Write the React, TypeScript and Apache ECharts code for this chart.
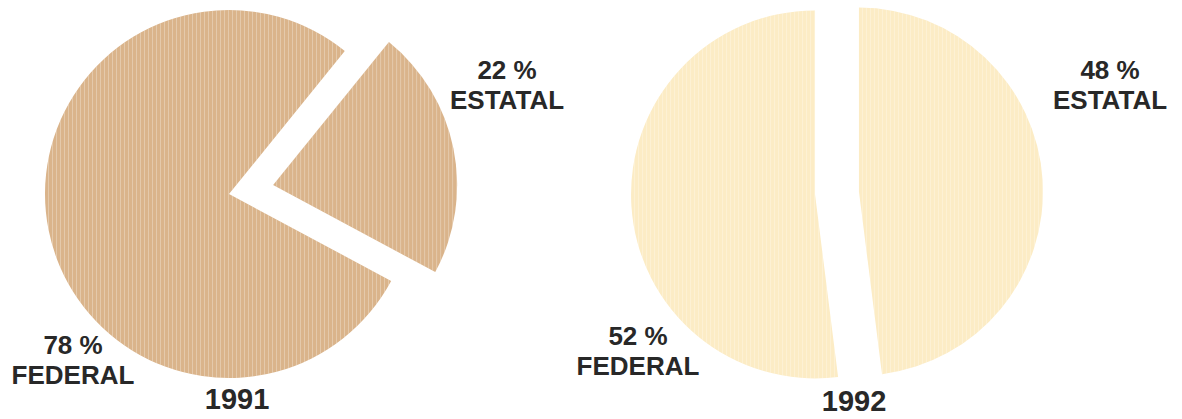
import React, { useEffect, useRef } from "react";
import * as echarts from "echarts";

// ---- data ----
const years = ["1991", "1992"];
const categories = ["ESTATAL", "FEDERAL"];
const values1991 = [22, 78];
const values1992 = [48, 52];
const pieColors = ["#dab48b", "#fcecc5"];

// ---- layout (positions only) ----
const centers: [number, number][] = [
  [229, 194],
  [837, 193],
];
const radius = 184;
const startAngles = [51, 90];
const offsets = [45, 22];
const selectedFlags = [
  [true, false],
  [true, true],
];
const labelPos: [number, number][][] = [
  [
    [507, 85],
    [73, 360],
  ],
  [
    [1110, 85],
    [638, 351],
  ],
];
const yearPos: [number, number][] = [
  [237, 399],
  [854, 401],
];

const FONT = '"Liberation Sans", Arial, Helvetica, sans-serif';
const TEXT_COLOR = "#282828";

export default function App() {
  const ref = useRef<HTMLDivElement>(null);

  useEffect(() => {
    if (!ref.current) return;
    const chart = echarts.init(ref.current, null, { renderer: "svg" });
    const allValues = [values1991, values1992];

    const series = allValues.map((vals, si) => ({
      type: "pie",
      center: centers[si],
      radius: radius,
      startAngle: startAngles[si],
      clockwise: true,
      selectedMode: "multiple",
      selectedOffset: offsets[si],
      silent: true,
      itemStyle: {
        color: pieColors[si],
        borderWidth: 0,
        decal: {
          symbol: "rect",
          symbolSize: 1,
          color: "rgba(255,255,255,0.28)",
          dashArrayX: [1, 3],
          dashArrayY: [1, 0],
          rotation: 0,
        },
      },
      select: { itemStyle: { color: pieColors[si], borderWidth: 0 } },
      emphasis: { disabled: true },
      label: { show: false },
      labelLine: { show: false },
      data: categories.map((c, i) => ({
        name: c,
        value: vals[i],
        selected: selectedFlags[si][i],
      })),
    }));

    const textStyle = (text: string, size: number, lineHeight?: number) => ({
      text,
      fill: TEXT_COLOR,
      font: `bold ${size}px ${FONT}`,
      fontSize: size,
      fontWeight: "bold",
      fontFamily: FONT,
      lineHeight: lineHeight,
      align: "center",
      verticalAlign: "middle",
      textAlign: "center",
      textVerticalAlign: "middle",
    });

    const labelTexts: any[] = [];
    allValues.forEach((vals, si) => {
      categories.forEach((c, i) => {
        labelTexts.push({
          type: "text",
          x: labelPos[si][i][0],
          y: labelPos[si][i][1],
          silent: true,
          style: textStyle(`${vals[i]} %\n${c}`, 26, 30),
        });
      });
    });

    const yearTexts = years.map((y, i) => ({
      type: "text",
      x: yearPos[i][0],
      y: yearPos[i][1],
      silent: true,
      style: textStyle(y, 29),
    }));

    chart.setOption({
      animation: false,
      backgroundColor: "#ffffff",
      series,
      graphic: [...labelTexts, ...yearTexts],
    } as any);

    return () => chart.dispose();
  }, []);

  return (
    <div
      ref={ref}
      style={{ position: "fixed", left: 0, top: 0, width: 1182, height: 419 }}
    />
  );
}
